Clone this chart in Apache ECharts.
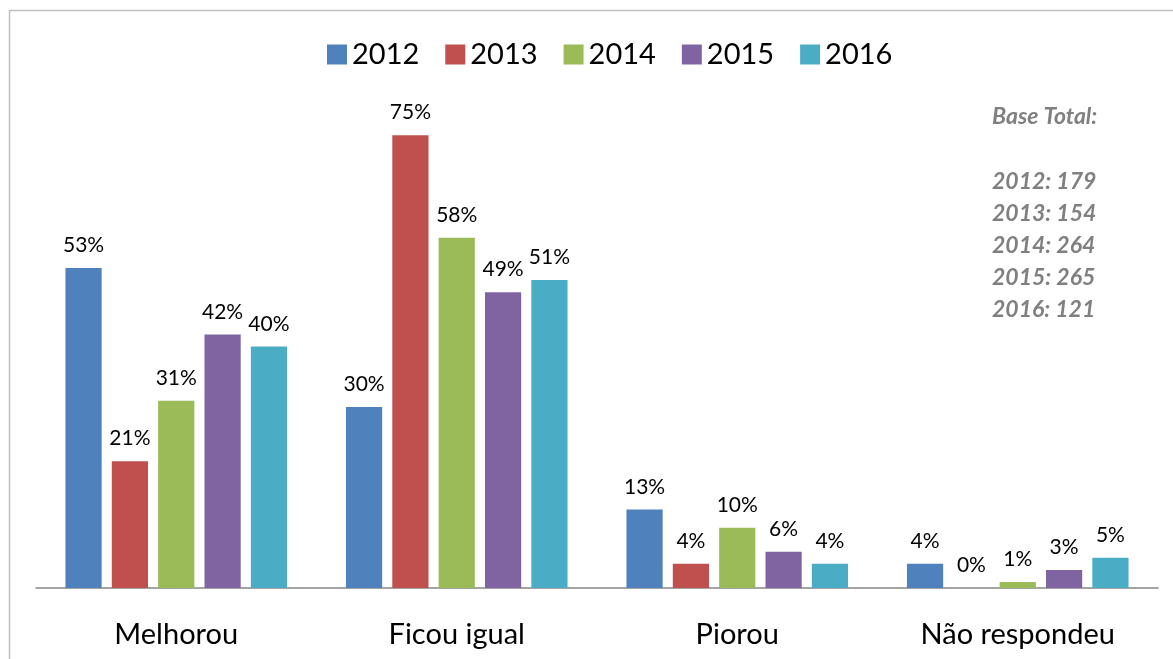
<!DOCTYPE html>
<html>
<head>
<meta charset="utf-8">
<script src="https://cdn.jsdelivr.net/npm/echarts@6/dist/echarts.min.js"></script>
<style>
  html, body { margin: 0; padding: 0; background: #fff; }
  #chart { width: 1173px; height: 659px; }
</style>
</head>
<body>
<div id="chart"></div>
<script>
const categories = ['Melhorou', 'Ficou igual', 'Piorou', 'Não respondeu'];
const years = ['2012', '2013', '2014', '2015', '2016'];
const colors = ['#4F81BD', '#C0504D', '#9BBB59', '#8064A2', '#4BACC6'];
const v2012 = [53, 30, 13, 4];
const v2013 = [21, 75, 4, 0];
const v2014 = [31, 58, 10, 1];
const v2015 = [42, 49, 6, 3];
const v2016 = [40, 51, 4, 5];
const baseTotals = [179, 154, 264, 265, 121];

const values = [v2012, v2013, v2014, v2015, v2016];
const font = 'Lato, "Liberation Sans", sans-serif';

const chart = echarts.init(document.getElementById('chart'));

const baseLines = [{ type: 'text', left: 992, top: 105,
  style: { text: 'Base Total:', fill: '#808080', font: 'italic bold 23px ' + font } }];
years.forEach((y, i) => {
  baseLines.push({ type: 'text', left: 992, top: 170 + i * 32,
    style: { text: y + ': ' + baseTotals[i], fill: '#808080', font: 'italic bold 23px ' + font } });
});

chart.setOption({
  animation: false,
  color: colors,
  textStyle: { fontFamily: font },
  legend: {
    top: 35,
    left: 322,
    itemWidth: 20,
    itemHeight: 20,
    itemGap: 26,
    icon: 'rect',
    textStyle: { fontSize: 29, color: '#000', fontFamily: font }
  },
  grid: { left: 36, right: 15, top: 105, bottom: 71 },
  xAxis: {
    type: 'category',
    data: categories,
    axisLine: { lineStyle: { color: '#868686', width: 1.5 } },
    axisTick: { show: false },
    axisLabel: { fontSize: 29, color: '#000', margin: 32 }
  },
  yAxis: {
    type: 'value',
    min: 0,
    max: 80,
    show: false,
    splitLine: { show: false }
  },
  series: years.map((y, i) => ({
    name: y,
    type: 'bar',
    data: values[i],
    barGap: '28%',
    barCategoryGap: '21%',
    label: {
      show: true,
      position: 'top',
      distance: 12,
      formatter: '{c}%',
      fontSize: 21,
      color: '#000'
    }
  })),
  graphic: [
    { type: 'rect', shape: { x: 9.5, y: 10.5, width: 1200, height: 700 },
      style: { fill: 'none', stroke: '#BFBFBF', lineWidth: 1.5 }, silent: true },
    ...baseLines
  ]
});
</script>
</body>
</html>
